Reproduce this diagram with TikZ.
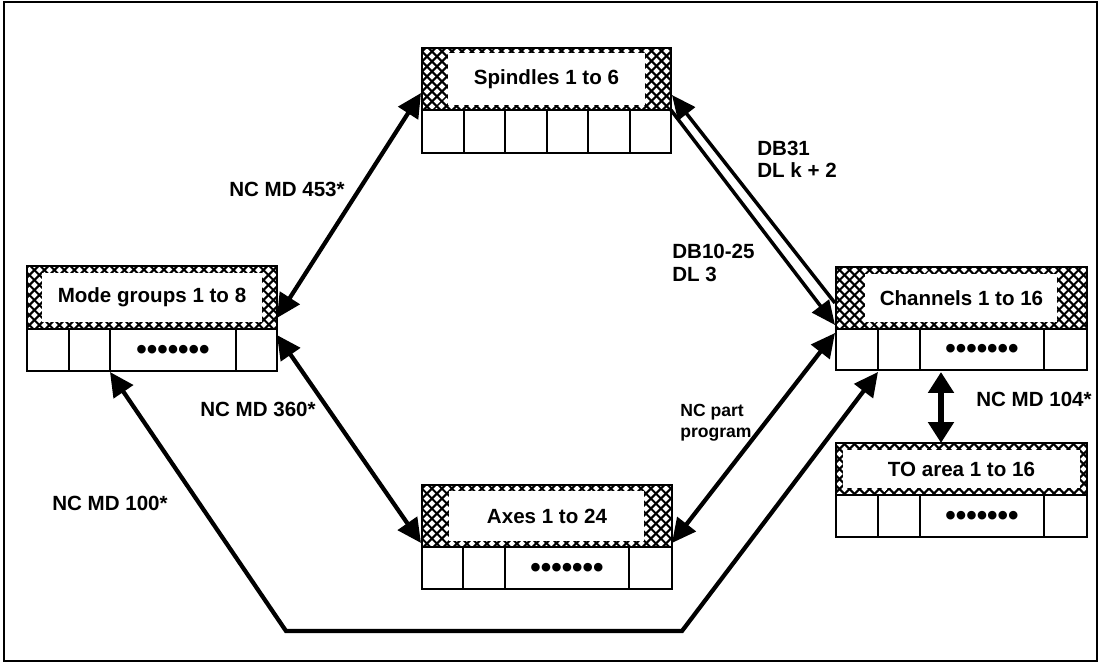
\documentclass[tikz,border=0pt]{standalone}
\usepackage{fontspec}
\setmainfont{Liberation Sans}
\usetikzlibrary{arrows.meta,patterns.meta,calc,positioning}

\tikzset{
  hatchbox/.style={draw, line width=0.04cm, inner sep=0pt, outer sep=0pt, anchor=north west,
    preaction={pattern={Lines[angle=45,distance=4pt,line width=1.25pt]}},
    pattern={Lines[angle=-45,distance=4pt,line width=1.25pt]}},
  namebox/.style={fill=white, inner sep=0pt, outer sep=0pt, font=\fontsize{11.7}{14}\selectfont\bfseries},
  cellrow/.style={draw, line width=0.04cm, inner sep=0pt, outer sep=0pt, anchor=north west},
  cellline/.style={line width=0.04cm},
  dotrow/.style={inner sep=0pt, font=\fontsize{17}{17}\selectfont\bfseries},
  lbl/.style={inner sep=0pt, align=left, font=\fontsize{11.7}{12.6}\selectfont\bfseries},
  smalllbl/.style={inner sep=0pt, align=left, font=\fontsize{10}{12}\selectfont\bfseries},
  conn/.style={line width=0.085cm, {Triangle[length=0.48cm,width=0.46cm]}-{Triangle[length=0.48cm,width=0.46cm]}},
  dbl/.style={line width=0.07cm, -{Triangle[length=0.48cm,width=0.42cm]}},
  big/.style={line width=0.11cm, {Triangle[length=0.42cm,width=0.5cm]}-{Triangle[length=0.42cm,width=0.5cm]}}
}

\begin{document}
\begin{tikzpicture}[x=0.02cm,y=-0.02cm]
\useasboundingbox (0,0) rectangle (1100,663);
\draw[line width=0.04cm] (4,2) rectangle (1097,661);

% spindles
\node[hatchbox, minimum width=4.98cm, minimum height=1.24cm] (spin) at (422,48) {};
\node[namebox, minimum width=3.94cm, minimum height=1.04cm] (spinT) at (spin) {Spindles 1 to 6};
\node[cellrow, minimum width=4.98cm, minimum height=0.86cm] (spinC) at (spin.south west) {};
\foreach \i in {1,...,5}
  \draw[cellline] ($(spinC.north west)+(\i*41.5,0)$) -- ($(spinC.south west)+(\i*41.5,0)$);

% mode groups
\node[hatchbox, minimum width=5cm, minimum height=1.26cm] (mode) at (27,266) {};
\node[namebox, minimum width=4.4cm, minimum height=1cm] (modeT) at (mode) {Mode groups 1 to 8};
\node[cellrow, minimum width=5cm, minimum height=0.84cm] (modeC) at (mode.south west) {};
\foreach \d in {42,83,209}
  \draw[cellline] ($(modeC.north west)+(\d,0)$) -- ($(modeC.south west)+(\d,0)$);
\node[dotrow] (modeD) at ($(modeC.west)+(146,2)$) {•••••••};

% channels
\node[hatchbox, minimum width=5.02cm, minimum height=1.24cm] (chan) at (836,267) {};
\node[namebox, minimum width=3.84cm, minimum height=0.98cm] (chanT) at (chan) {Channels 1 to 16};
\node[cellrow, minimum width=5.02cm, minimum height=0.82cm] (chanC) at (chan.south west) {};
\foreach \d in {42,84,208}
  \draw[cellline] ($(chanC.north west)+(\d,0)$) -- ($(chanC.south west)+(\d,0)$);
\node[dotrow] (chanD) at ($(chanC.west)+(146,2)$) {•••••••};

% axes
\node[hatchbox, minimum width=5cm, minimum height=1.24cm] (axes) at (422,485) {};
\node[namebox, minimum width=3.9cm, minimum height=1.02cm] (axesT) at (axes) {Axes 1 to 24};
\node[cellrow, minimum width=5cm, minimum height=0.84cm] (axesC) at (axes.south west) {};
\foreach \d in {41,83,207}
  \draw[cellline] ($(axesC.north west)+(\d,0)$) -- ($(axesC.south west)+(\d,0)$);
\node[dotrow] (axesD) at ($(axesC.west)+(145,2)$) {•••••••};

% TO area
\node[hatchbox, minimum width=5.02cm, minimum height=1.04cm] (toa) at (836,443) {};
\node[namebox, minimum width=4.74cm, minimum height=0.76cm] (toaT) at (toa) {TO area 1 to 16};
\node[cellrow, minimum width=5.02cm, minimum height=0.84cm] (toaC) at (toa.south west) {};
\foreach \d in {42,84,208}
  \draw[cellline] ($(toaC.north west)+(\d,0)$) -- ($(toaC.south west)+(\d,0)$);
\node[dotrow] (toaD) at ($(toaC.west)+(146,2)$) {•••••••};

% connectors
\draw[conn] ($(mode.south east)+(0,-11)$) -- ($(spin.south west)+(-1,-17)$);
\draw[conn] ($(mode.south east)+(0,6)$) -- ($(axes.south west)+(-1,-4)$);
\draw[conn] ($(axes.south east)+(0,-4)$) -- ($(chan.south west)+(-1,4)$);
\draw[dbl] ($(chan.west)+(-1,5)$) -- ($(spin.east)+(1,16)$);
\draw[dbl] ($(spin.south east)+(0,0)$) -- ($(chan.south west)+(-1,-4)$);
\coordinate (bendL) at (286,631);
\coordinate (bendR) at (682,631);
\draw[conn] ($(modeC.south west)+(83,1)$) -- (bendL) -- (bendR) -- ($(chanC.south west)+(42,2)$);
\draw[big] ($(chanC.south west)+(105,2)$) -- ($(toa.north west)+(105,0)$);

% labels
\node[lbl] (l453) at (287,189) {NC MD 453*};
\node[lbl] (l360) at (258,409) {NC MD 360*};
\node[lbl] (l100) at (110,503) {NC MD 100*};
\node[lbl, anchor=west] (ldb31) at (757,159) {DB31\\DL k + 2};
\node[lbl, anchor=west] (ldb10) at (672,263) {DB10-25\\DL 3};
\node[smalllbl, anchor=west] (lpart) at (680,423) {NC part\\program};
\node[lbl] (l104) at (1034,399) {NC MD 104*};
\end{tikzpicture}
\end{document}
